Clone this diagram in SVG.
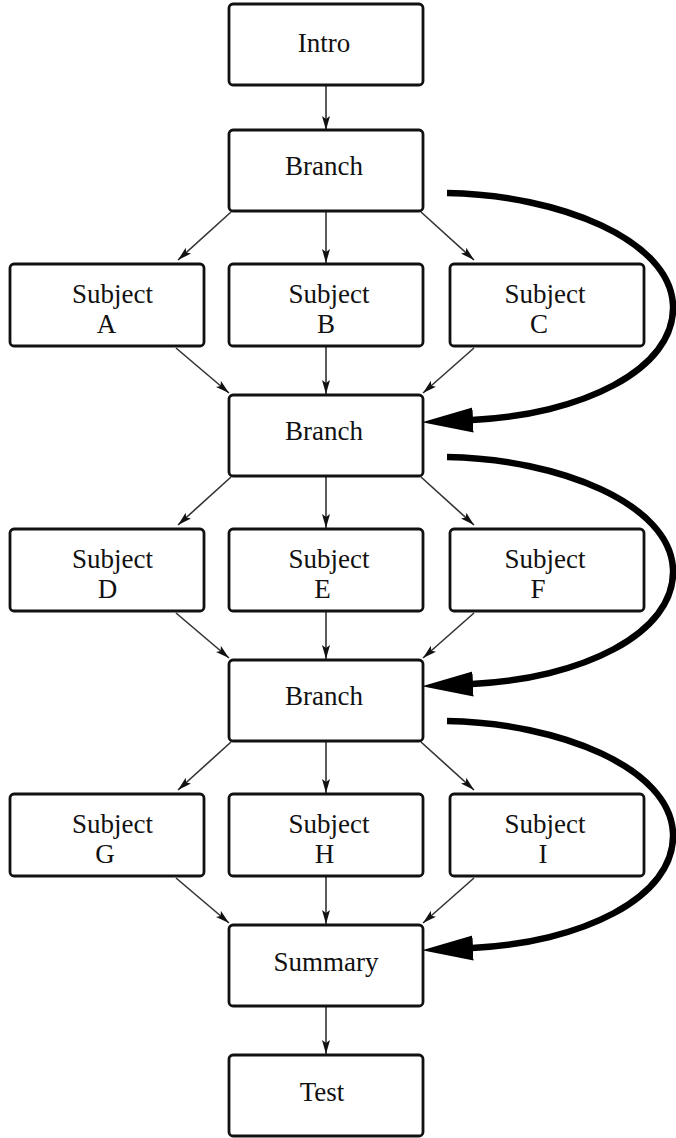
<svg xmlns="http://www.w3.org/2000/svg" width="676" height="1138" viewBox="0 0 676 1138">
<style>
.box{fill:#fff;stroke:#111;stroke-width:2.8}
.t{font-family:"Liberation Serif","Times New Roman",serif;font-size:27px;fill:#111;text-anchor:middle}
.e{fill:none;stroke:#333;stroke-width:1.6}
.big{fill:none;stroke:#000;stroke-width:6.5}
</style>
<defs>
<marker id="ah" markerUnits="userSpaceOnUse" markerWidth="15" markerHeight="9" refX="14" refY="4.5" orient="auto">
<path d="M0,0.5 L14,4.5 L0,8.5 L3,4.5 z" fill="#111"/>
</marker>
<marker id="big" markerUnits="userSpaceOnUse" markerWidth="52" markerHeight="26" refX="1" refY="13" orient="auto">
<path d="M0,0.5 L51,13 L0,25.5 z" fill="#000"/>
</marker>
</defs>
<g id="connectors">
<path class="e" marker-end="url(#ah)" d="M326,85 L326,130"/>
<path class="e" marker-end="url(#ah)" d="M231,212 L178,260"/>
<path class="e" marker-end="url(#ah)" d="M326,211 L326,263"/>
<path class="e" marker-end="url(#ah)" d="M421,212 L474,260"/>
<path class="e" marker-end="url(#ah)" d="M176,348 L229,393"/>
<path class="e" marker-end="url(#ah)" d="M326,346 L326,394"/>
<path class="e" marker-end="url(#ah)" d="M474,348 L423,393"/>
<path class="e" marker-end="url(#ah)" d="M231,477 L178,525"/>
<path class="e" marker-end="url(#ah)" d="M326,476 L326,528"/>
<path class="e" marker-end="url(#ah)" d="M421,477 L474,525"/>
<path class="e" marker-end="url(#ah)" d="M176,613 L229,658"/>
<path class="e" marker-end="url(#ah)" d="M326,611 L326,659"/>
<path class="e" marker-end="url(#ah)" d="M474,613 L423,658"/>
<path class="e" marker-end="url(#ah)" d="M231,742 L178,790"/>
<path class="e" marker-end="url(#ah)" d="M326,741 L326,793"/>
<path class="e" marker-end="url(#ah)" d="M421,742 L474,790"/>
<path class="e" marker-end="url(#ah)" d="M176,878 L229,923"/>
<path class="e" marker-end="url(#ah)" d="M326,876 L326,924"/>
<path class="e" marker-end="url(#ah)" d="M474,878 L423,923"/>
<path class="e" marker-end="url(#ah)" d="M326,1006 L326,1054"/>
<path class="big" marker-end="url(#big)" d="M447,193 C560,195 670,240 673,305 C676,370 580,415 472,420"/>
<path class="big" marker-end="url(#big)" d="M447,457 C560,459 670,504 673,569 C676,634 580,679 472,684"/>
<path class="big" marker-end="url(#big)" d="M447,721 C560,723 670,768 673,833 C676,898 580,943 472,948"/>
</g>
<g id="intro"><rect class="box" x="229" y="4" width="194" height="81" rx="4"/><text class="t" x="324" y="52">Intro</text></g>
<g id="branch1"><rect class="box" x="229" y="130" width="194" height="81" rx="4"/><text class="t" x="324" y="175">Branch</text></g>
<g id="subjectA"><rect class="box" x="10" y="264" width="194" height="82" rx="4"/><text class="t" x="112.5" y="303">Subject</text><text class="t" x="106.5" y="333">A</text></g>
<g id="subjectB"><rect class="box" x="229" y="264" width="194" height="82" rx="4"/><text class="t" x="329" y="303">Subject</text><text class="t" x="326" y="333">B</text></g>
<g id="subjectC"><rect class="box" x="450" y="264" width="194" height="82" rx="4"/><text class="t" x="545" y="303">Subject</text><text class="t" x="539" y="333">C</text></g>
<g id="branch2"><rect class="box" x="229" y="395" width="194" height="81" rx="4"/><text class="t" x="324" y="440">Branch</text></g>
<g id="subjectD"><rect class="box" x="10" y="529" width="194" height="82" rx="4"/><text class="t" x="112.5" y="568">Subject</text><text class="t" x="107.5" y="598">D</text></g>
<g id="subjectE"><rect class="box" x="229" y="529" width="194" height="82" rx="4"/><text class="t" x="329" y="568">Subject</text><text class="t" x="322.5" y="598">E</text></g>
<g id="subjectF"><rect class="box" x="450" y="529" width="194" height="82" rx="4"/><text class="t" x="545" y="568">Subject</text><text class="t" x="538" y="598">F</text></g>
<g id="branch3"><rect class="box" x="229" y="660" width="194" height="81" rx="4"/><text class="t" x="324" y="705">Branch</text></g>
<g id="subjectG"><rect class="box" x="10" y="794" width="194" height="82" rx="4"/><text class="t" x="112.5" y="833">Subject</text><text class="t" x="105" y="863">G</text></g>
<g id="subjectH"><rect class="box" x="229" y="794" width="194" height="82" rx="4"/><text class="t" x="329" y="833">Subject</text><text class="t" x="324.5" y="863">H</text></g>
<g id="subjectI"><rect class="box" x="450" y="794" width="194" height="82" rx="4"/><text class="t" x="545" y="833">Subject</text><text class="t" x="543" y="863">I</text></g>
<g id="summary"><rect class="box" x="229" y="925" width="194" height="81" rx="4"/><text class="t" x="326" y="971">Summary</text></g>
<g id="test"><rect class="box" x="229" y="1055" width="194" height="81" rx="4"/><text class="t" x="322" y="1101">Test</text></g>
</svg>
